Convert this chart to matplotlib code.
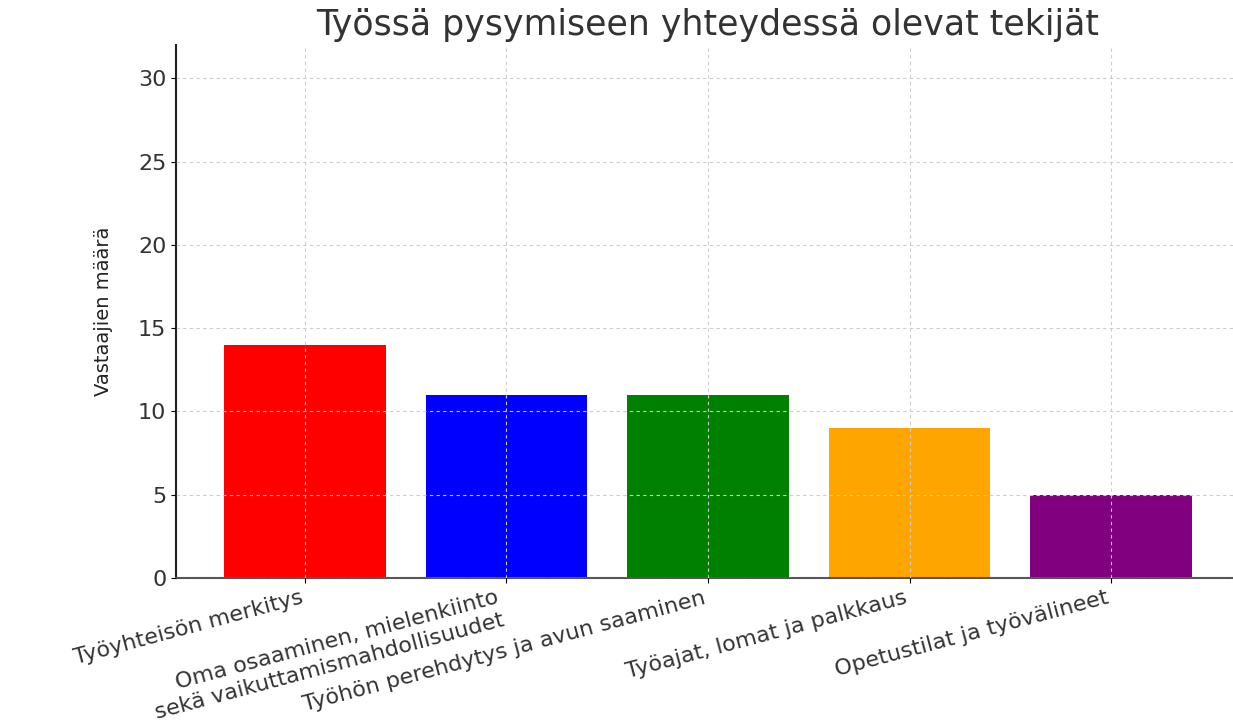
import matplotlib
matplotlib.use("Agg")
import matplotlib.pyplot as plt

categories = [
    "Työyhteisön merkitys",
    "Oma osaaminen, mielenkiinto\nsekä vaikuttamismahdollisuudet",
    "Työhön perehdytys ja avun saaminen",
    "Työajat, lomat ja palkkaus",
    "Opetustilat ja työvälineet",
]
counts = [14, 11, 11, 9, 5]
colors = ["red", "blue", "green", "orange", "purple"]

fig = plt.figure(figsize=(12.33, 7.26), dpi=100)
ax = fig.add_axes([176 / 1233, 1 - 578 / 726, (1240 - 176) / 1233, (578 - 45) / 726])

x = range(len(categories))
ax.bar(x, counts, color=colors, width=0.8, zorder=1)

ax.set_ylim(0, 32)
ax.set_xticks(list(x))
ax.set_xticklabels(categories, rotation=15, ha="right", fontsize=16, color="#333333")
ax.tick_params(axis="y", labelsize=16, labelcolor="#333333")
ax.grid(True, linestyle=(0, (3, 3)), color="#cccccc", linewidth=0.8, zorder=2)
ax.set_axisbelow(False)

for side in ["top", "right"]:
    ax.spines[side].set_visible(False)
ax.spines["left"].set_color("#222222")
ax.spines["bottom"].set_color("#555555")
ax.spines["left"].set_linewidth(1.5)
ax.spines["bottom"].set_linewidth(1.5)

ax.set_ylabel("Vastaajien määrä", fontsize=14, color="#222222", labelpad=18)
fig.text(708 / 1233, 1 - 25 / 726, "Työssä pysymiseen yhteydessä olevat tekijät",
         ha="center", va="center", fontsize=25, color="#333333")

fig.savefig("out.png", dpi=100)
